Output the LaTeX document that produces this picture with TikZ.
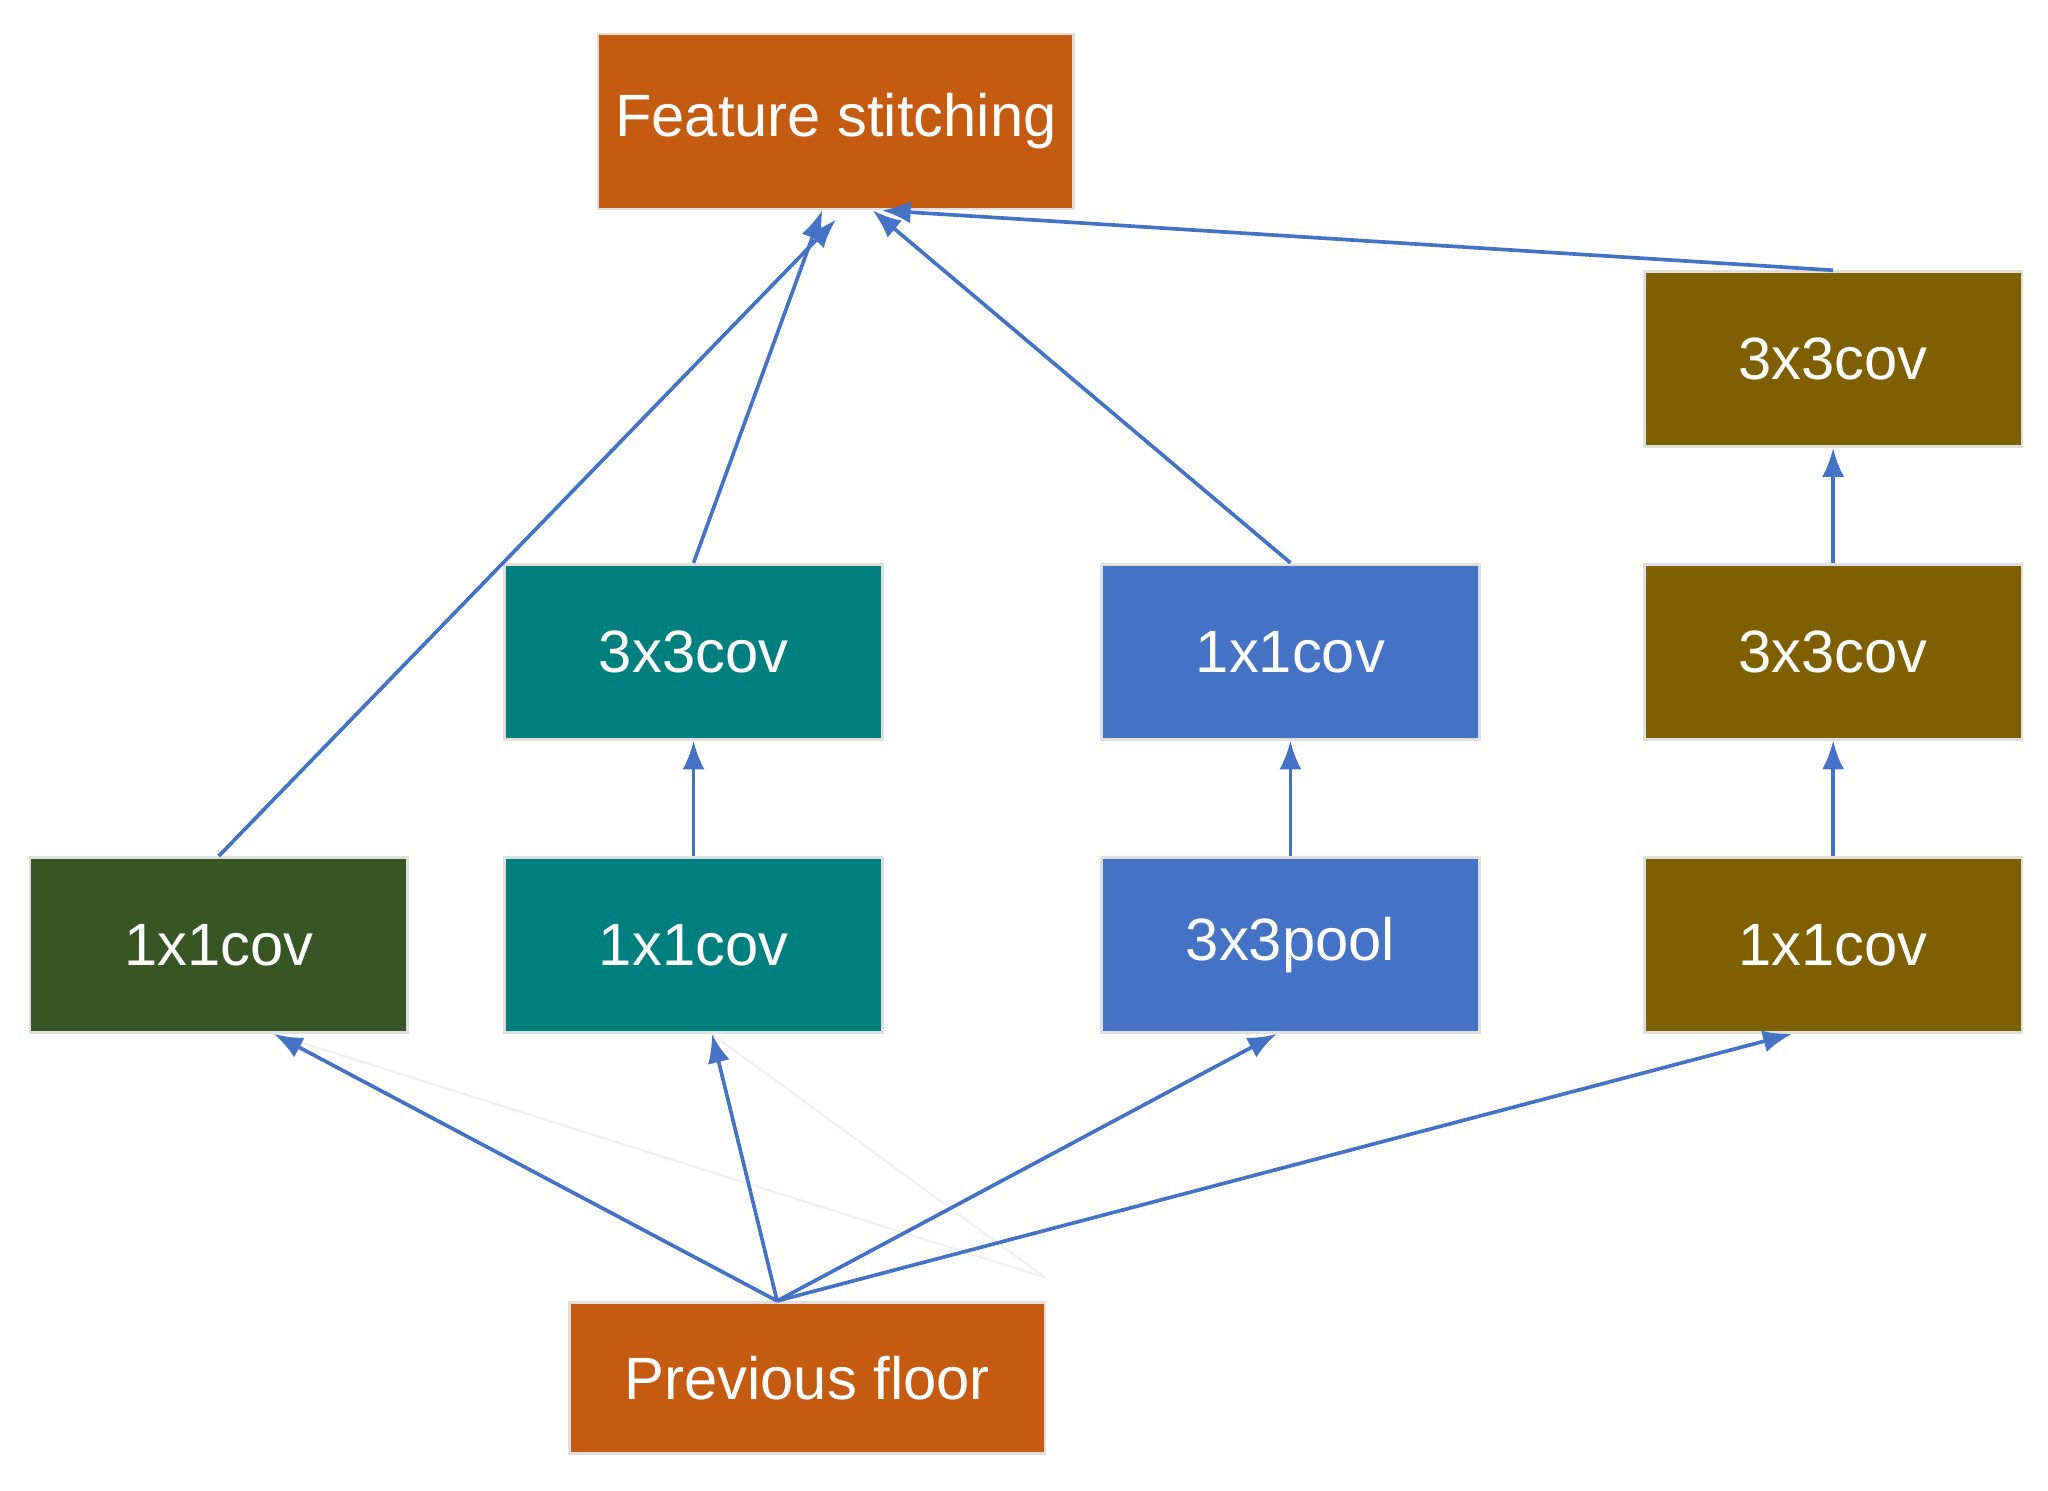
\documentclass[tikz,border=0pt]{standalone}
\usepackage{fontspec}
\setmainfont{Liberation Sans}
\usetikzlibrary{arrows.meta}
\definecolor{corange}{HTML}{C55A11}
\definecolor{cgreen}{HTML}{375623}
\definecolor{cteal}{HTML}{007F7F}
\definecolor{cblue}{HTML}{4472C4}
\definecolor{colive}{HTML}{7F6000}
\begin{document}
\begin{tikzpicture}[x=0.01cm,y=-0.01cm,
  box/.style={draw=gray!25,line width=0.6pt,text=white,minimum width=2.89cm,minimum height=1.34cm,inner sep=0pt,font=\fontsize{13}{15}\selectfont},
  arr/.style={draw=cblue,line width=0.8pt,-{Latex[length=2.2mm,width=1.7mm]}},
  faint/.style={draw=gray!12,line width=0.5pt}]
\useasboundingbox (0,0) rectangle (1568,1141);
\node[box,fill=corange,minimum width=3.64cm] (fs) at (640,93) {Feature stitching};
\node[box,fill=colive] (o3) at (1403.5,275) {3x3cov};
\node[box,fill=cteal] (t2) at (531,499) {3x3cov};
\node[box,fill=cblue] (b2) at (988,499) {1x1cov};
\node[box,fill=colive] (o2) at (1403.5,499) {3x3cov};
\node[box,fill=cgreen] (g1) at (167.5,723.5) {1x1cov};
\node[box,fill=cteal] (t1) at (531,723.5) {1x1cov};
\node[box,fill=cblue] (b1) at (988,723.5) {3x3pool};
\node[box,fill=colive] (o1) at (1403.5,723.5) {1x1cov};
\node[box,fill=corange,minimum width=3.64cm,minimum height=1.16cm] (pf) at (618,1055) {Previous floor};
\coordinate (src) at (595,996);
\coordinate (fa) at (800,978);
\draw[faint] ([xshift=12]g1.south) -- (fa);
\draw[faint] ([xshift=4]t1.south) -- (fa);
\draw[arr] (src) -- ([xshift=12]g1.south);
\draw[arr] (src) -- ([xshift=4]t1.south);
\draw[arr] (src) -- ([xshift=-3]b1.south);
\draw[arr] (src) -- ([xshift=-9]o1.south);
\draw[arr] (t1.north) -- (t2.south);
\draw[arr] (b1.north) -- (b2.south);
\draw[arr] (o1.north) -- (o2.south);
\draw[arr] (o2.north) -- (o3.south);
\draw[arr] (g1.north) -- ([xshift=0,yshift=-2]fs.south);
\draw[arr] (t2.north) -- ([xshift=-3]fs.south);
\draw[arr] (b2.north) -- ([xshift=8]fs.south);
\draw[arr] (o3.north) -- ([xshift=10]fs.south);
\end{tikzpicture}
\end{document}
